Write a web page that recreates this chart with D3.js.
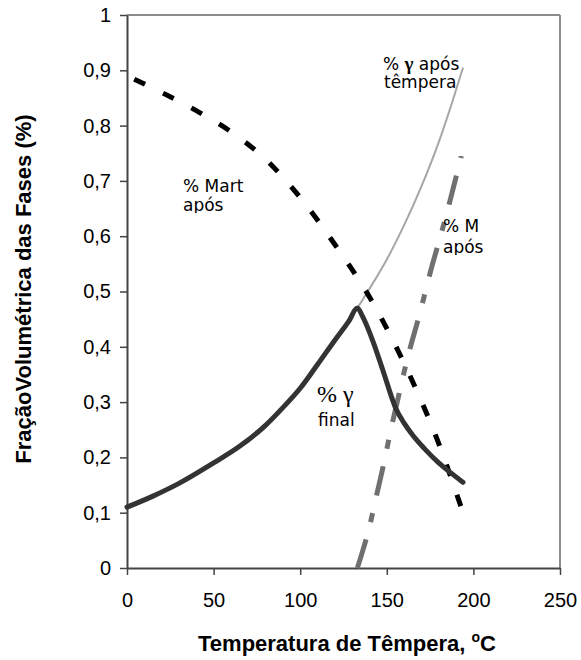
<!DOCTYPE html>
<html>
<head>
<meta charset="utf-8">
<script src="https://cdn.jsdelivr.net/npm/d3@7"></script>
<style>
  body { margin: 0; background: #fff; }
  svg { display: block; }
</style>
</head>
<body>
<div id="viz-container"></div>
<script>
// values (temperature in C, volume fraction)
const martTemp = [0, 20, 40, 60, 80, 100, 120, 140, 160, 180, 194];
const martFrac = [0.89, 0.86, 0.827, 0.789, 0.739, 0.67, 0.585, 0.49, 0.37, 0.225, 0.10];

const gammaAfterTemp = [0, 15, 30, 50, 65, 80, 90, 100, 110, 120, 128, 133, 140, 150, 160, 170, 180, 187, 194];
const gammaAfter = [0.11, 0.13, 0.153, 0.19, 0.22, 0.258, 0.29, 0.325, 0.368, 0.412, 0.446, 0.47, 0.505, 0.558, 0.62, 0.69, 0.77, 0.835, 0.905];

const gammaFinalTemp = [0, 15, 30, 50, 65, 80, 90, 100, 110, 120, 128, 133, 136, 142, 148, 155, 160, 165, 172, 180, 187, 194];
const gammaFinal = [0.11, 0.13, 0.153, 0.19, 0.22, 0.258, 0.29, 0.325, 0.368, 0.412, 0.446, 0.47, 0.455, 0.41, 0.355, 0.29, 0.262, 0.24, 0.215, 0.19, 0.172, 0.155];

const mTemp = [133, 136, 140, 144, 148, 152, 156, 162, 169, 176, 181, 187, 193];
const mFrac = [0, 0.03, 0.075, 0.13, 0.185, 0.245, 0.30, 0.38, 0.46, 0.545, 0.60, 0.67, 0.745];

const xTicks = [0, 50, 100, 150, 200, 250];
const yTicks = [0, 0.1, 0.2, 0.3, 0.4, 0.5, 0.6, 0.7, 0.8, 0.9, 1];

const W = 581, H = 660;
let viz = d3.select("#viz-container")
  .append("svg")
    .attr("width", W)
    .attr("height", H);

let x = d3.scaleLinear().domain([0, 250]).range([127, 560]);
let y = d3.scaleLinear().domain([0, 1]).range([568, 15]);

const comma = d3.formatLocale({decimal: ",", thousands: ".", grouping: [3], currency: ["", ""]});
const yFmt = d => d === 0 || d === 1 ? String(d) : comma.format(".1f")(d);

// frame (top and right in lighter grey)
viz.append("line")
  .attr("x1", x(0)).attr("x2", x(250))
  .attr("y1", y(1)).attr("y2", y(1))
  .attr("stroke", "#8c8c8c").attr("stroke-width", 2);
viz.append("line")
  .attr("x1", x(250)).attr("x2", x(250))
  .attr("y1", y(0)).attr("y2", y(1))
  .attr("stroke", "#8c8c8c").attr("stroke-width", 2);

// axes
let xAxis = viz.append("g")
  .attr("transform", "translate(0," + y(0) + ")")
  .call(d3.axisBottom(x).tickValues(xTicks).tickSize(7).tickSizeOuter(0).tickPadding(18).tickFormat(d3.format("d")));
let yAxis = viz.append("g")
  .attr("transform", "translate(" + x(0) + ",0)")
  .call(d3.axisLeft(y).tickValues(yTicks).tickSize(7).tickSizeOuter(0).tickPadding(9).tickFormat(yFmt));

[xAxis, yAxis].forEach(g => {
  g.select(".domain").attr("stroke", "#444").attr("stroke-width", 2);
  g.selectAll(".tick line").attr("stroke", "#444").attr("stroke-width", 1.5);
  g.selectAll(".tick text")
    .attr("fill", "#000")
    .style("font-family", "'Liberation Sans', Arial, sans-serif")
    .style("font-size", "20px");
});

// curves
function path(xs, ys, curve) {
  return d3.line()
    .x((d, i) => x(xs[i]))
    .y(d => y(d))
    .curve(curve)(ys);
}

viz.append("path")
  .attr("d", path(gammaAfterTemp, gammaAfter, d3.curveMonotoneX))
  .attr("fill", "none")
  .attr("stroke", "#a6a6a6")
  .attr("stroke-width", 2);

viz.append("path")
  .attr("d", path(martTemp, martFrac, d3.curveMonotoneX))
  .attr("fill", "none")
  .attr("stroke", "#000")
  .attr("stroke-width", 5)
  .attr("stroke-dasharray", "12,20")
  .attr("stroke-dashoffset", 24);

viz.append("path")
  .attr("d", path(mTemp, mFrac, d3.curveMonotoneX))
  .attr("fill", "none")
  .attr("stroke", "#707070")
  .attr("stroke-width", 5)
  .attr("stroke-dasharray", "30,18,9,18");

viz.append("path")
  .attr("d", path(gammaFinalTemp, gammaFinal, d3.curveMonotoneX))
  .attr("fill", "none")
  .attr("stroke", "#333")
  .attr("stroke-width", 5)
  .attr("stroke-linejoin", "round")
  .attr("stroke-linecap", "round");

// annotations
const sans = "'DejaVu Sans', Verdana, sans-serif";
const defs = viz.append("defs");
defs.append("clipPath").attr("id", "clipMart")
  .append("rect").attr("x", 170).attr("y", 165).attr("width", 100).attr("height", 48);
defs.append("clipPath").attr("id", "clipM")
  .append("rect").attr("x", 430).attr("y", 205).attr("width", 80).attr("height", 50);

let mart = viz.append("g").attr("clip-path", "url(#clipMart)")
  .style("font-family", sans).style("font-size", "17px").attr("fill", "#000");
mart.append("text").attr("x", 183).attr("y", 192).text("% Mart");
mart.append("text").attr("x", 183).attr("y", 211).text("após");

let mAfter = viz.append("g").attr("clip-path", "url(#clipM)")
  .style("font-family", sans).style("font-size", "17px").attr("fill", "#000");
mAfter.append("text").attr("x", 443).attr("y", 232).text("% M");
mAfter.append("text").attr("x", 443).attr("y", 253).text("após");

let gAfter = viz.append("text").attr("x", 383).attr("y", 70)
  .style("font-family", sans).style("font-size", "17px").attr("fill", "#000");
gAfter.append("tspan").text("% ");
gAfter.append("tspan").style("font-family", "'Liberation Serif', serif").style("font-weight", "bold").style("font-size", "19px").text("γ");
gAfter.append("tspan").text(" após");
viz.append("text").attr("x", 384).attr("y", 88)
  .style("font-family", sans).style("font-size", "17px").attr("fill", "#000")
  .text("têmpera");

viz.append("text").attr("x", 317).attr("y", 402)
  .style("font-family", "'Liberation Serif', serif").style("font-size", "24px").attr("fill", "#000")
  .text("% γ");
viz.append("text").attr("x", 318).attr("y", 426)
  .style("font-family", sans).style("font-size", "17px").attr("fill", "#000")
  .text("final");

// axis titles
let xt = viz.append("text")
  .attr("x", 347).attr("y", 651)
  .attr("text-anchor", "middle")
  .style("font-family", "'Liberation Sans', Arial, sans-serif")
  .style("font-size", "22px").style("font-weight", "bold")
  .text("Temperatura de Têmpera, ");
xt.append("tspan").attr("dy", -9).style("font-size", "14px").text("o");
xt.append("tspan").attr("dy", 9).text("C");

viz.append("text")
  .attr("transform", "translate(31,289) rotate(-90)")
  .attr("text-anchor", "middle")
  .style("font-family", "'Liberation Sans', Arial, sans-serif")
  .style("font-size", "22px").style("font-weight", "bold")
  .text("FraçãoVolumétrica das Fases (%)");
</script>
</body>
</html>
